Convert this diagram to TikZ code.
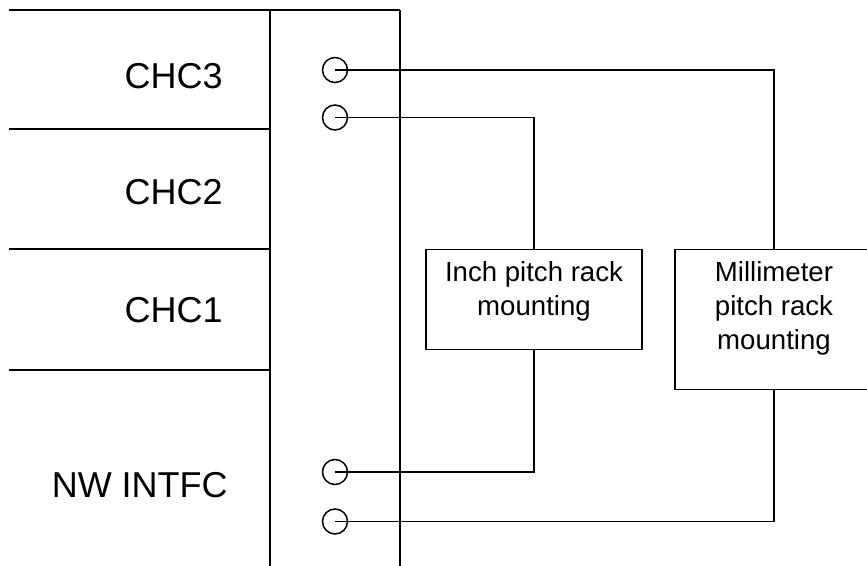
\documentclass[tikz,border=0pt]{standalone}
\usepackage{fontspec}
\setmainfont{Liberation Sans}
\usetikzlibrary{positioning}

\begin{document}
\begin{tikzpicture}[x=0.5pt,y=-0.5pt,line width=0.75pt,
    slot/.style={anchor=base east,inner sep=0pt,font=\fontsize{18}{22}\selectfont},
    port/.style={circle,draw,inner sep=0pt,minimum size=12.5pt},
    mount/.style={draw,anchor=north,inner sep=0pt,text height=16pt,
      font=\fontsize{13.8}{17}\selectfont}]
    \useasboundingbox (0,0) rectangle (867,566);
    % Card cage
    \draw (9,10) -- (400,10);
    \foreach \y in {129,249,370} {
      \draw (9,\y) -- (270,\y);
    }
    \draw (270,10) -- (270,566);
    \draw (400,10) -- (400,566);
    \node[slot] (chc3) at (223.5,89) {CHC3};
    \node[slot] (chc2) at (223.5,205) {CHC2};
    \node[slot] (chc1) at (223.5,323) {CHC1};
    \node[slot] (nw) at (228.5,497) {NW INTFC};

    % Ports
    \node[port] (chcA) at (335,70) {};
    \node[port] (chcB) at (335,117.5) {};
    \node[port] (nwA) at (335,472) {};
    \node[port] (nwB) at (335,521.5) {};

    % Rack mountings
    \node[mount,minimum width=108pt,text depth=34pt] (inch) at (534,249)
      {\begin{tabular}[t]{@{}c@{}}Inch pitch rack\\mounting\end{tabular}};
    \node[mount,minimum width=99pt,text depth=54pt] (mm) at (774,249)
      {\begin{tabular}[t]{@{}c@{}}Millimeter\\pitch rack\\mounting\end{tabular}};

    \draw (chcA.center) -- (chcA.center -| mm.north) -- (mm.north);
    \draw (chcB.center) -- (chcB.center -| inch.north) -- (inch.north);
    \draw (inch.south) -- (inch.south |- nwA.center) -- (nwA.center);
    \draw (mm.south) -- (mm.south |- nwB.center) -- (nwB.center);
\end{tikzpicture}
\end{document}
